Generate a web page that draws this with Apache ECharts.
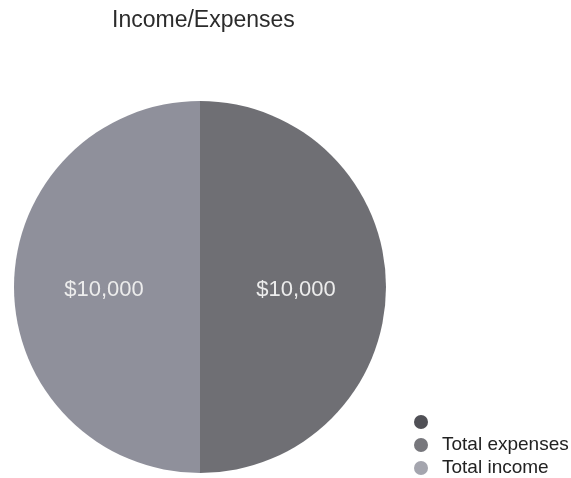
<!DOCTYPE html>
<html>
<head>
<meta charset="utf-8">
<script src="https://cdn.jsdelivr.net/npm/echarts@6/dist/echarts.min.js"></script>
<style>
html,body{margin:0;padding:0;background:#fff;}
#chart{width:571px;height:478px;}
</style>
</head>
<body>
<div id="chart"></div>
<script>
const titleText = 'Income/Expenses';
const categories = [' ', 'Total expenses', 'Total income'];
const values = [0, 10000, 10000];
const colors = ['#505056', '#6f6f74', '#8f909b'];
const legendColors = ['#505056', '#77777c', '#a4a5ae'];

const chart = echarts.init(document.getElementById('chart'), null, {renderer: 'canvas'});
const data = categories.map((c, i) => ({
  name: c,
  value: values[i],
  itemStyle: {color: colors[i]},
  label: {show: values[i] > 0}
}));
chart.setOption({
  animation: false,
  backgroundColor: '#ffffff',
  title: {
    text: titleText,
    left: 112,
    top: 9,
    padding: 0,
    textStyle: {fontFamily: 'Liberation Sans, Arial, sans-serif', fontSize: 23, fontWeight: 'normal', color: '#2b2b2b'}
  },
  legend: {
    orient: 'vertical',
    left: 414,
    top: 412,
    padding: 0,
    icon: 'circle',
    itemWidth: 14,
    itemHeight: 14,
    itemGap: 3,
    selectedMode: false,
    textStyle: {fontFamily: 'Liberation Sans, Arial, sans-serif', fontSize: 19, lineHeight: 20, color: '#222', padding: [0, 0, 0, 9]},
    data: categories.map((c, i) => ({name: c, itemStyle: {color: legendColors[i]}}))
  },
  series: [{
    type: 'pie',
    center: [200, 287],
    radius: 186,
    startAngle: 90,
    clockwise: true,
    data: data,
    label: {
      position: 'inside',
      offset: [0, 3],
      formatter: p => '$' + p.value.toLocaleString('en-US'),
      fontFamily: 'Liberation Sans, Arial, sans-serif',
      fontSize: 22,
      color: '#ececec'
    },
    labelLine: {show: false},
    emphasis: {disabled: true}
  }]
});
</script>
</body>
</html>
